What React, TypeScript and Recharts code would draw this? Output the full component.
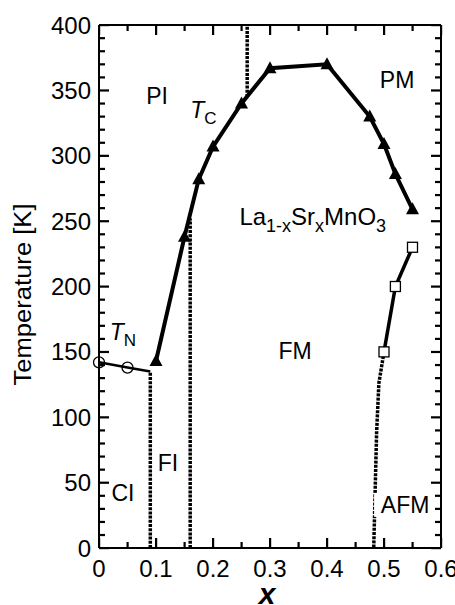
import React from 'react';
import { ComposedChart, Line, XAxis, YAxis, ReferenceDot, ReferenceLine } from 'recharts';

// Tc (Curie temperature) boundary, filled triangles
const tcX = [0.1, 0.15, 0.175, 0.2, 0.25, 0.3, 0.4, 0.475, 0.5, 0.52, 0.55];
const tcT = [143, 238, 282, 307, 340, 367, 370, 330, 309, 286, 259];
// TN (Neel temperature) boundary, open circles
const tnX = [0, 0.05, 0.09];
const tnT = [142, 138, 135];
// AFM transition, open squares
const afmX = [0.5, 0.52, 0.55];
const afmT = [150, 200, 230];
// AFM low-temperature dotted boundary
const afmLowX = [0.5, 0.491, 0.487, 0.482];
const afmLowT = [150, 126, 88, 0];
// vertical dotted phase boundaries
const vLineX = [0.09, 0.16, 0.26];
const vLineLo = [0, 0, 345];
const vLineHi = [135, 252, 400];

// axis ticks
const xMajorTicks = [0, 0.1, 0.2, 0.3, 0.4, 0.5, 0.6];
const xTickLabels = ['0', '0.1', '0.2', '0.3', '0.4', '0.5', '0.6'];
const xMinorTicks = [0.05, 0.15, 0.25, 0.35, 0.45, 0.55];
const yMajorTicks = [0, 50, 100, 150, 200, 250, 300, 350, 400];
const yTickLabels = ['0', '50', '100', '150', '200', '250', '300', '350', '400'];
const yMinorTicks = [10, 20, 30, 40, 60, 70, 80, 90, 110, 120, 130, 140, 160, 170, 180, 190, 210, 220, 230, 240, 260, 270, 280, 290, 310, 320, 330, 340, 360, 370, 380, 390];

// region labels
const regionText = ['PI', 'PM', 'FM', 'FI', 'CI', 'AFM'];
const regionX = [0.102, 0.523, 0.344, 0.121, 0.042, 0.537];
const regionT = [346, 358, 151, 65, 42, 33];

const zip = (xs: number[], ys: number[]) => xs.map((x, i) => ({ x, y: ys[i] }));
const tcData = zip(tcX, tcT);
const tnData = zip(tnX, tnT);
const afmData = zip(afmX, afmT);
const afmLowData = zip(afmLowX, afmLowT);
const vLines = vLineX.map((x, i) => [{ x, y: vLineLo[i] }, { x, y: vLineHi[i] }]);

const FONT = '"Liberation Sans", Arial, Helvetica, sans-serif';
const X_MIN = 0;
const X_MAX = 0.6;
const Y_MIN = 0;
const Y_MAX = 400;

const BottomLabel = (props: any) => {
  const x = Number(props.x);
  const y = Number(props.y);
  const i = xMajorTicks.findIndex((m) => Math.abs(m - props.payload.value) < 1e-6);
  if (i < 0) return null;
  return (
    <text x={x} y={y + 29} textAnchor="middle" fontFamily={FONT} fontSize={24} fill="#000" stroke="none">
      {xTickLabels[i]}
    </text>
  );
};
const LeftLabel = (props: any) => {
  const x = Number(props.x);
  const y = Number(props.y);
  const i = yMajorTicks.findIndex((m) => Math.abs(m - props.payload.value) < 1e-6);
  if (i < 0) return null;
  return (
    <text x={x - 8} y={y + 8.5} textAnchor="end" fontFamily={FONT} fontSize={24} fill="#000" stroke="none">
      {yTickLabels[i]}
    </text>
  );
};

// inward tick marks (stable module-level shapes), positioned through the axis scales
const BottomMajor = (p: any) => <rect x={Number(p.cx) - 1} y={Number(p.cy) - 10} width={2.2} height={10} fill="#000" />;
const BottomMinor = (p: any) => <rect x={Number(p.cx) - 1} y={Number(p.cy) - 6} width={2.2} height={6} fill="#000" />;
const TopMajor = (p: any) => <rect x={Number(p.cx) - 1} y={Number(p.cy)} width={2.2} height={10} fill="#000" />;
const TopMinor = (p: any) => <rect x={Number(p.cx) - 1} y={Number(p.cy)} width={2.2} height={6} fill="#000" />;
const LeftMajor = (p: any) => <rect x={Number(p.cx)} y={Number(p.cy) - 1} width={10} height={2.2} fill="#000" />;
const LeftMinor = (p: any) => <rect x={Number(p.cx)} y={Number(p.cy) - 1} width={6} height={2.2} fill="#000" />;
const RightMajor = (p: any) => <rect x={Number(p.cx) - 10} y={Number(p.cy) - 1} width={10} height={2.2} fill="#000" />;
const RightMinor = (p: any) => <rect x={Number(p.cx) - 6} y={Number(p.cy) - 1} width={6} height={2.2} fill="#000" />;

const TriDot = (props: any) => {
  const { cx, cy } = props;
  if (cx == null || cy == null) return null;
  return <polygon points={`${cx},${cy - 7} ${cx - 6.5},${cy + 5} ${cx + 6.5},${cy + 5}`} fill="#000" />;
};
const CircDot = (props: any) => {
  const { cx, cy, index } = props;
  if (cx == null || cy == null || index > 1) return null;
  return <circle cx={cx} cy={cy} r={5.5} fill="none" stroke="#000" strokeWidth={1.3} />;
};
const SqDot = (props: any) => {
  const { cx, cy } = props;
  if (cx == null || cy == null) return null;
  return <rect x={cx - 5} y={cy - 5} width={10} height={10} fill="#fff" stroke="#000" strokeWidth={1.3} />;
};

const RegionLabel = (text: string) => (p: any) => {
  const { cx, cy } = p;
  if (text === 'AFM') {
    return (
      <g>
        <rect x={cx - 31} y={cy - 12} width={58} height={24} fill="#fff" />
        <text x={cx} y={cy + 8} textAnchor="middle" fontFamily={FONT} fontSize={23} fill="#000">
          {text}
        </text>
      </g>
    );
  }
  return (
    <text x={cx} y={cy + 8} textAnchor="middle" fontFamily={FONT} fontSize={23} fill="#000">
      {text}
    </text>
  );
};

const TLabel = (sub: string) => (p: any) => {
  const { cx, cy } = p;
  return (
    <text x={cx} y={cy + 5} textAnchor="middle" fontFamily={FONT} fontSize={23} fill="#000">
      <tspan fontStyle="italic">T</tspan>
      <tspan fontSize={17} dy={6}>{sub}</tspan>
    </text>
  );
};

const FormulaLabel = (p: any) => {
  const { cx, cy } = p;
  return (
    <text x={cx} y={cy + 8} textAnchor="middle" fontFamily={FONT} fontSize={24} fill="#000">
      <tspan>La</tspan>
      <tspan fontSize={18} dy={7}>1-x</tspan>
      <tspan dy={-7}>Sr</tspan>
      <tspan fontSize={18} dy={7}>x</tspan>
      <tspan dy={-7}>MnO</tspan>
      <tspan fontSize={18} dy={7}>3</tspan>
    </text>
  );
};

const YAxisTitle = (props: any) => {
  const vb = props.viewBox || { x: 0, y: 25, width: 99, height: 523 };
  const cx = vb.x + 23;
  const cy = vb.y + vb.height / 2 + 8;
  return (
    <text
      x={cx}
      y={cy}
      transform={`rotate(-90 ${cx} ${cy})`}
      textAnchor="middle"
      dominantBaseline="central"
      fontFamily={FONT}
      fontSize={23}
      textLength={182}
      lengthAdjust="spacingAndGlyphs"
      fill="#000"
    >
      Temperature [K]
    </text>
  );
};
const XAxisTitle = (props: any) => {
  const vb = props.viewBox || { x: 99, y: 548, width: 342, height: 57 };
  const cx = vb.x + vb.width / 2 - 3;
  const cy = vb.y + 56;
  return (
    <text x={cx} y={cy} textAnchor="middle" fontFamily={FONT} fontSize={30} fontStyle="italic" fontWeight="bold" fill="#000">
      x
    </text>
  );
};

export default function App() {
  return (
    <div style={{ position: 'absolute', left: 0, top: 0, width: 455, height: 605, background: '#fff' }}>
      <ComposedChart width={455} height={605} margin={{ top: 25, right: 14, bottom: 0, left: 0 }}>
        <XAxis
          xAxisId="b"
          dataKey="x"
          type="number"
          domain={[X_MIN, X_MAX]}
          ticks={xMajorTicks}
          interval={0}
          orientation="bottom"
          height={57}
          tickSize={0}
          tickMargin={0}
          tickLine={false}
          axisLine={{ stroke: '#000', strokeWidth: 2 }}
          tick={<BottomLabel />}
          label={<XAxisTitle />}
        />
        <YAxis
          yAxisId="l"
          type="number"
          domain={[Y_MIN, Y_MAX]}
          ticks={yMajorTicks}
          interval={0}
          orientation="left"
          width={99}
          tickSize={0}
          tickMargin={0}
          tickLine={false}
          axisLine={{ stroke: '#000', strokeWidth: 2 }}
          tick={<LeftLabel />}
          label={<YAxisTitle />}
        />

        {/* top and right frame */}
        <ReferenceLine xAxisId="b" yAxisId="l" y={Y_MAX} stroke="#000" strokeWidth={2} ifOverflow="visible" />
        <ReferenceLine xAxisId="b" yAxisId="l" x={X_MAX} stroke="#000" strokeWidth={2} ifOverflow="visible" />

        {/* inward tick marks on all four sides */}
        {xMajorTicks.map((v) => (
          <ReferenceDot key={`xbM${v}`} xAxisId="b" yAxisId="l" x={v} y={Y_MIN} r={1} ifOverflow="visible" shape={BottomMajor} />
        ))}
        {xMinorTicks.map((v) => (
          <ReferenceDot key={`xbm${v}`} xAxisId="b" yAxisId="l" x={v} y={Y_MIN} r={1} ifOverflow="visible" shape={BottomMinor} />
        ))}
        {xMajorTicks.map((v) => (
          <ReferenceDot key={`xtM${v}`} xAxisId="b" yAxisId="l" x={v} y={Y_MAX} r={1} ifOverflow="visible" shape={TopMajor} />
        ))}
        {xMinorTicks.map((v) => (
          <ReferenceDot key={`xtm${v}`} xAxisId="b" yAxisId="l" x={v} y={Y_MAX} r={1} ifOverflow="visible" shape={TopMinor} />
        ))}
        {yMajorTicks.map((v) => (
          <ReferenceDot key={`ylM${v}`} xAxisId="b" yAxisId="l" x={X_MIN} y={v} r={1} ifOverflow="visible" shape={LeftMajor} />
        ))}
        {yMinorTicks.map((v) => (
          <ReferenceDot key={`ylm${v}`} xAxisId="b" yAxisId="l" x={X_MIN} y={v} r={1} ifOverflow="visible" shape={LeftMinor} />
        ))}
        {yMajorTicks.map((v) => (
          <ReferenceDot key={`yrM${v}`} xAxisId="b" yAxisId="l" x={X_MAX} y={v} r={1} ifOverflow="visible" shape={RightMajor} />
        ))}
        {yMinorTicks.map((v) => (
          <ReferenceDot key={`yrm${v}`} xAxisId="b" yAxisId="l" x={X_MAX} y={v} r={1} ifOverflow="visible" shape={RightMinor} />
        ))}

        {vLines.map((d, i) => (
          <Line
            key={`v${i}`}
            xAxisId="b"
            yAxisId="l"
            data={d}
            dataKey="y"
            type="linear"
            stroke="#000"
            strokeWidth={3.5}
            strokeDasharray="3 1.2"
            dot={false}
            activeDot={false}
            isAnimationActive={false}
          />
        ))}
        <Line
          xAxisId="b"
          yAxisId="l"
          data={afmLowData}
          dataKey="y"
          type="linear"
          stroke="#000"
          strokeWidth={3.5}
          strokeDasharray="3 1.2"
          dot={false}
          activeDot={false}
          isAnimationActive={false}
        />
        <Line
          xAxisId="b"
          yAxisId="l"
          data={tnData}
          dataKey="y"
          type="linear"
          stroke="#000"
          strokeWidth={2.5}
          dot={<CircDot />}
          activeDot={false}
          isAnimationActive={false}
        />
        <Line
          xAxisId="b"
          yAxisId="l"
          data={tcData}
          dataKey="y"
          type="linear"
          stroke="#000"
          strokeWidth={4}
          dot={<TriDot />}
          activeDot={false}
          isAnimationActive={false}
        />
        <Line
          xAxisId="b"
          yAxisId="l"
          data={afmData}
          dataKey="y"
          type="linear"
          stroke="#000"
          strokeWidth={3.5}
          dot={<SqDot />}
          activeDot={false}
          isAnimationActive={false}
        />

        {regionText.map((t, i) => (
          <ReferenceDot
            key={t}
            xAxisId="b"
            yAxisId="l"
            x={regionX[i]}
            y={regionT[i]}
            r={1}
            shape={RegionLabel(t)}
          />
        ))}
        <ReferenceDot xAxisId="b" yAxisId="l" x={0.183} y={333} r={1} shape={TLabel('C')} />
        <ReferenceDot xAxisId="b" yAxisId="l" x={0.042} y={163} r={1} shape={TLabel('N')} />
        <ReferenceDot xAxisId="b" yAxisId="l" x={0.375} y={253} r={1} shape={FormulaLabel} />
      </ComposedChart>
    </div>
  );
}
